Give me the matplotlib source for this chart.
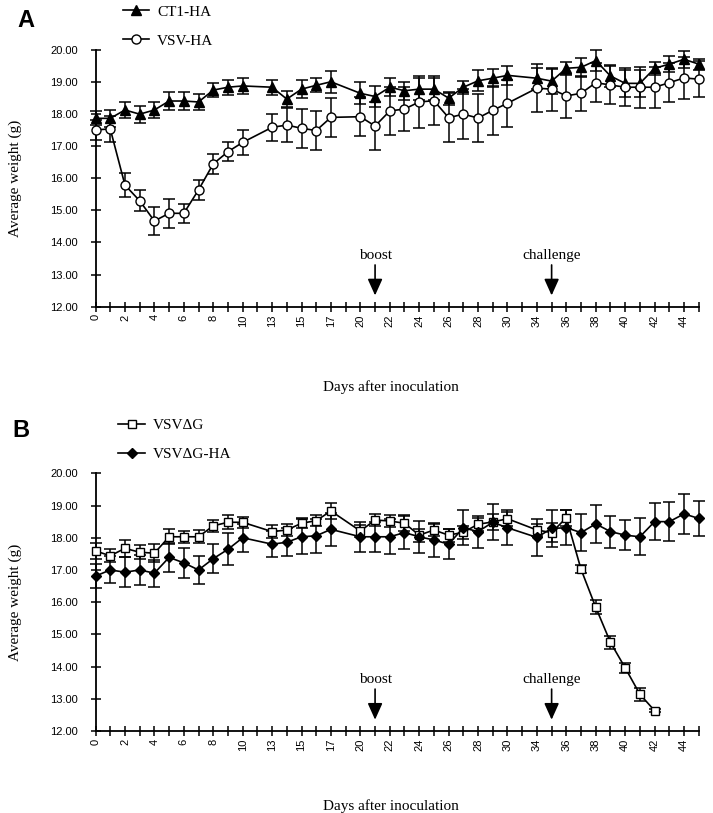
"""
Average body weight of mice after inoculation: panel A (CT1-HA vs VSV-HA),
panel B (VSVdeltaG vs VSVdeltaG-HA), with boost and challenge days marked.
"""

import matplotlib
matplotlib.use("Agg")
import matplotlib.pyplot as plt

SERIF = "Liberation Serif"
SANS = "Liberation Sans"

# x axis is categorical: one slot per scheduled day (gaps at 11-12, 18-19, 31-33)
DAY_SLOTS = [0, 1, 2, 3, 4, 5, 6, 7, 8, 9, 10, 12, 13, 14, 15, 16, 17, 19,
             20, 21, 22, 23, 24, 25, 26, 27, 28, 29, 30, 32,
             34, 35, 36, 37, 38, 39, 40, 41, 42, 43, 44, 45]
TICK_LABELS = [0, 2, 4, 6, 8, 10, 13, 15, 17, 20, 22, 24, 26, 28, 30,
               34, 36, 38, 40, 42, 44]

DAYS_FULL = [0, 1, 2, 3, 4, 5, 6, 7, 8, 9, 10, 13, 14, 15, 16, 17,
             20, 21, 22, 23, 24, 25, 26, 27, 28, 29, 30,
             34, 35, 36, 37, 38, 39, 40, 41, 42, 43, 44, 45]
DAYS_DG = [0, 1, 2, 3, 4, 5, 6, 7, 8, 9, 10, 13, 14, 15, 16, 17,
           20, 21, 22, 23, 24, 25, 26, 27, 28, 29, 30,
           34, 35, 36, 37, 38, 39, 40, 41, 42]

# panel A
ct1_ha = [17.87, 17.87, 18.13, 18.00, 18.13, 18.41, 18.41, 18.38, 18.75, 18.84, 18.88,
          18.84, 18.47, 18.78, 18.90, 19.01,
          18.65, 18.55, 18.84, 18.73, 18.78, 18.78, 18.50, 18.84, 19.04, 19.12, 19.21,
          19.12, 19.03, 19.43, 19.46, 19.67, 19.19, 18.96, 18.96, 19.43, 19.56, 19.71, 19.56]
ct1_ha_err = [0.22, 0.26, 0.26, 0.26, 0.26, 0.29, 0.29, 0.24, 0.21, 0.23, 0.24,
              0.23, 0.26, 0.29, 0.22, 0.34,
              0.34, 0.33, 0.28, 0.28, 0.34, 0.34, 0.20, 0.20, 0.33, 0.28, 0.29,
              0.33, 0.39, 0.21, 0.30, 0.33, 0.33, 0.41, 0.42, 0.21, 0.25, 0.27, 0.17]
vsv_ha = [17.51, 17.54, 15.79, 15.30, 14.67, 14.91, 14.91, 15.64, 16.45, 16.83, 17.12,
          17.59, 17.66, 17.56, 17.49, 17.90,
          17.92, 17.63, 18.10, 18.16, 18.38, 18.42, 17.89, 18.00, 17.88, 18.12, 18.34,
          18.81, 18.78, 18.57, 18.65, 18.98, 18.91, 18.84, 18.84, 18.84, 18.98, 19.13, 19.09]
vsv_ha_err = [0.30, 0.40, 0.37, 0.33, 0.45, 0.45, 0.30, 0.30, 0.30, 0.30, 0.40,
              0.42, 0.52, 0.60, 0.60, 0.60,
              0.60, 0.75, 0.75, 0.70, 0.80, 0.76, 0.76, 0.78, 0.75, 0.77, 0.74,
              0.75, 0.67, 0.68, 0.54, 0.60, 0.60, 0.60, 0.64, 0.64, 0.60, 0.65, 0.56]

# panel B
vsv_dg = [17.59, 17.44, 17.67, 17.55, 17.52, 18.03, 18.03, 18.03, 18.37, 18.48, 18.48,
          18.19, 18.24, 18.45, 18.53, 18.83,
          18.21, 18.55, 18.52, 18.45, 18.08, 18.24, 18.08, 18.17, 18.42, 18.49, 18.59,
          18.24, 18.16, 18.62, 17.02, 15.84, 14.75, 13.96, 13.14, 12.63]
vsv_dg_err = [0.25, 0.20, 0.26, 0.22, 0.28, 0.23, 0.18, 0.20, 0.18, 0.22, 0.17,
              0.20, 0.20, 0.15, 0.17, 0.24,
              0.20, 0.20, 0.20, 0.25, 0.20, 0.20, 0.20, 0.20, 0.20, 0.25, 0.22,
              0.20, 0.30, 0.25, 0.12, 0.22, 0.19, 0.16, 0.20, 0.05]
vsv_dg_ha = [16.81, 17.00, 16.93, 17.00, 16.90, 17.39, 17.22, 17.00, 17.35, 17.64, 18.00,
             17.80, 17.86, 18.03, 18.06, 18.26,
             18.03, 18.03, 18.03, 18.16, 18.03, 17.93, 17.80, 18.31, 18.19, 18.48, 18.31,
             18.01, 18.29, 18.31, 18.16, 18.43, 18.19, 18.08, 18.03, 18.50, 18.50, 18.74, 18.60]
vsv_dg_ha_err = [0.38, 0.42, 0.47, 0.47, 0.42, 0.46, 0.46, 0.44, 0.45, 0.50, 0.43,
                 0.40, 0.43, 0.54, 0.52, 0.51,
                 0.46, 0.46, 0.54, 0.50, 0.50, 0.54, 0.47, 0.54, 0.50, 0.56, 0.54,
                 0.58, 0.57, 0.54, 0.58, 0.60, 0.50, 0.47, 0.57, 0.57, 0.60, 0.61, 0.54]

BOOST_DAY = 21
CHALLENGE_DAY = 35


def slots(days):
    return [DAY_SLOTS.index(d) for d in days]


def draw_series(ax, days, vals, errs, marker, face, label, size):
    x = slots(days)
    ax.errorbar(x, vals, yerr=errs, fmt="none", ecolor="black", elinewidth=1.1,
                capsize=4.5, capthick=1.1, clip_on=False, zorder=2)
    line, = ax.plot(x, vals, color="black", lw=1.2, marker=marker, markersize=size,
                    markerfacecolor=face, markeredgecolor="black", markeredgewidth=1.0,
                    label=label, clip_on=False, zorder=3)
    return line


def style_axes(ax, label_y):
    ax.set_xlim(0, len(DAY_SLOTS) - 1)
    ax.set_ylim(12, 20)
    ax.set_xticks(range(len(DAY_SLOTS)))
    ax.set_xticklabels([str(d) if d in TICK_LABELS else "" for d in DAY_SLOTS],
                       rotation=90, fontsize=8, family=SANS)
    ax.set_yticks(range(12, 21))
    ax.set_yticklabels([f"{v:.2f}" for v in range(12, 21)], fontsize=8, family=SANS)
    ax.tick_params(axis="both", direction="inout", length=7, width=1.1)
    ax.tick_params(axis="x", pad=2)
    ax.tick_params(axis="y", pad=9)
    for side in ("top", "right"):
        ax.spines[side].set_visible(False)
    for side in ("left", "bottom"):
        ax.spines[side].set_linewidth(1.3)
    ax.set_ylabel("Average weight (g)", family=SERIF, fontsize=11)
    ax.yaxis.set_label_coords(-0.122, 0.5)
    ax.set_xlabel("Days after inoculation", family=SERIF, fontsize=11)
    ax.xaxis.set_label_coords(0.49, label_y)

    for day, txt in ((BOOST_DAY, "boost"), (CHALLENGE_DAY, "challenge")):
        xs = DAY_SLOTS.index(day)
        ax.annotate("", xy=(xs, 12.35), xytext=(xs, 13.3),
                    arrowprops=dict(arrowstyle="-|>,head_length=1.0,head_width=0.45",
                                    color="black", lw=1.2, mutation_scale=10,
                                    shrinkA=0, shrinkB=0))
        ax.text(xs, 13.4, txt, ha="center", va="bottom", family=SERIF, fontsize=11)


fig = plt.figure(figsize=(7.13, 8.13), dpi=100)

ax_a = fig.add_axes([0.134, 0.6228, 0.846, 0.3157])
h1 = draw_series(ax_a, DAYS_FULL, ct1_ha, ct1_ha_err, "^", "black", "CT1-HA", 7.5)
h2 = draw_series(ax_a, DAYS_FULL, vsv_ha, vsv_ha_err, "o", "white", "VSV-HA", 6.5)
style_axes(ax_a, -0.285)
fig.legend(handles=[h1, h2], loc="upper left", bbox_to_anchor=(0.172, 0.994),
           frameon=False, prop={"family": SERIF, "size": 11}, handlelength=1.75,
           handletextpad=0.5, labelspacing=1.0, borderpad=0, borderaxespad=0)
fig.text(0.036, 0.975, "A", family=SANS, fontsize=17, fontweight="bold",
         ha="center", va="center")

ax_b = fig.add_axes([0.134, 0.1009, 0.846, 0.3169])
h3 = draw_series(ax_b, DAYS_DG, vsv_dg, vsv_dg_err, "s", "white", "VSVΔG", 6)
h4 = draw_series(ax_b, DAYS_FULL, vsv_dg_ha, vsv_dg_ha_err, "D", "black", "VSVΔG-HA", 5.5)
style_axes(ax_b, -0.265)
fig.legend(handles=[h3, h4], loc="upper left", bbox_to_anchor=(0.166, 0.485),
           frameon=False, prop={"family": SERIF, "size": 11}, handlelength=1.75,
           handletextpad=0.5, labelspacing=1.0, borderpad=0, borderaxespad=0)
fig.text(0.029, 0.470, "B", family=SANS, fontsize=17, fontweight="bold",
         ha="center", va="center")

fig.savefig("out.png", dpi=100)
